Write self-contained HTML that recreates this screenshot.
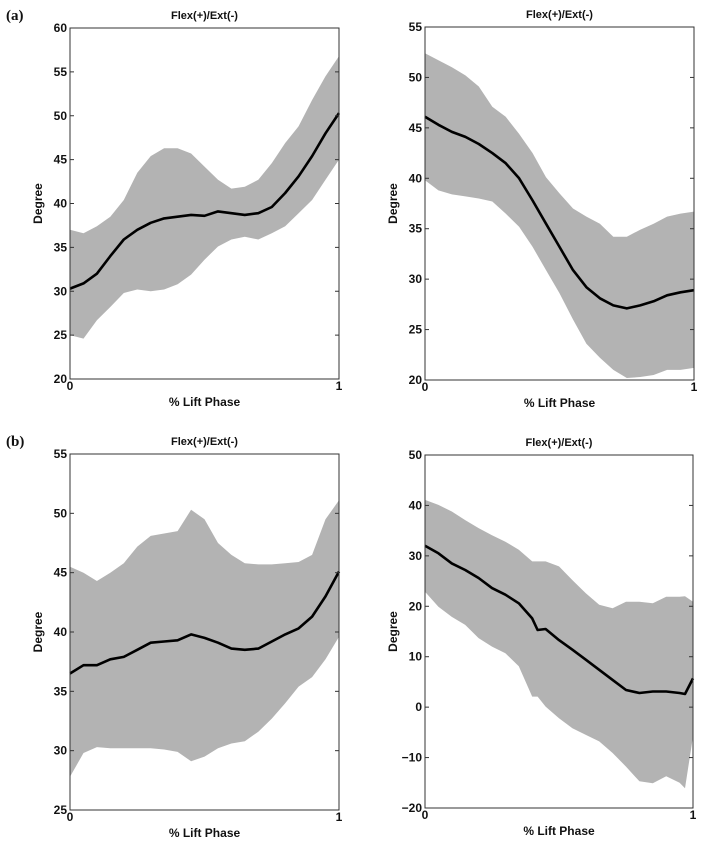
<!DOCTYPE html>
<html><head><meta charset="utf-8"><style>
body{margin:0;background:#fff;}
svg text{font-family:"Liberation Sans",sans-serif;font-weight:bold;fill:#111;}
</style></head><body>
<svg id="fig" width="704" height="843" viewBox="0 0 704 843" xmlns="http://www.w3.org/2000/svg">
<text x="6" y="20" style="font-family:'Liberation Serif',serif;font-size:15px">(a)</text>
<text x="6" y="446" style="font-family:'Liberation Serif',serif;font-size:15px">(b)</text>
</svg>
<script>
const xA1=[0,.05,.1,.15,.2,.25,.3,.35,.4,.45,.5,.55,.6,.65,.7,.75,.8,.85,.9,.95,1];
const meanA1=[30.3,30.9,32,34,35.9,37,37.8,38.3,38.5,38.7,38.6,39.1,38.9,38.7,38.9,39.6,41.2,43.1,45.4,48,50.3];
const upA1=[37,36.6,37.4,38.5,40.4,43.5,45.4,46.3,46.3,45.7,44.2,42.7,41.7,41.9,42.7,44.6,46.9,48.8,51.8,54.5,56.8];
const loA1=[25,24.6,26.7,28.2,29.8,30.2,30,30.2,30.8,31.9,33.6,35.1,35.9,36.2,35.9,36.6,37.4,38.9,40.4,42.7,45];
const ticksA1=[20,25,30,35,40,45,50,55,60];

const xA2=[0,.05,.1,.15,.2,.25,.3,.35,.4,.45,.5,.55,.6,.65,.7,.75,.8,.85,.9,.95,1];
const meanA2=[46.1,45.3,44.6,44.1,43.4,42.5,41.5,40,37.8,35.5,33.2,30.9,29.2,28.1,27.4,27.1,27.4,27.8,28.4,28.7,28.9];
const upA2=[52.4,51.7,51,50.2,49.1,47.1,46.1,44.4,42.5,40.1,38.5,37,36.2,35.5,34.2,34.2,34.9,35.5,36.2,36.5,36.7];
const loA2=[39.8,38.8,38.4,38.2,38,37.7,36.5,35.2,33.2,30.9,28.6,26,23.6,22.2,21,20.2,20.3,20.5,21,21,21.2];
const ticksA2=[20,25,30,35,40,45,50,55];

const xB1=[0,.05,.1,.15,.2,.25,.3,.35,.4,.45,.5,.55,.6,.65,.7,.75,.8,.85,.9,.95,1];
const meanB1=[36.5,37.2,37.2,37.7,37.9,38.5,39.1,39.2,39.3,39.8,39.5,39.1,38.6,38.5,38.6,39.2,39.8,40.3,41.3,43,45.1];
const upB1=[45.5,45,44.3,45,45.8,47.2,48.1,48.3,48.5,50.3,49.5,47.5,46.5,45.8,45.7,45.7,45.8,45.9,46.5,49.5,51.1];
const loB1=[27.8,29.8,30.3,30.2,30.2,30.2,30.2,30.1,29.9,29.1,29.5,30.2,30.6,30.8,31.6,32.7,34,35.4,36.2,37.7,39.6];
const ticksB1=[25,30,35,40,45,50,55];

const xB2=[0,.05,.1,.15,.2,.25,.3,.35,.4,.42,.45,.5,.55,.6,.65,.7,.75,.8,.85,.9,.95,.97,1];
const meanB2=[32,30.5,28.5,27.2,25.6,23.6,22.3,20.6,17.6,15.3,15.5,13.3,11.4,9.4,7.4,5.4,3.4,2.8,3.1,3.1,2.8,2.6,5.7];
const upB2=[41.1,40.1,38.8,37.1,35.5,34.1,32.8,31.2,28.9,28.9,28.9,27.9,25.2,22.6,20.3,19.6,20.9,20.9,20.6,21.9,21.9,22,20.9];
const loB2=[22.9,19.9,17.9,16.3,13.7,12,10.7,8.1,2.1,2.1,0.1,-2.2,-4.2,-5.5,-6.8,-9.1,-11.8,-14.7,-15.1,-13.7,-15,-16.1,-5.8];
const ticksB2=[-20,-10,0,10,20,30,40,50];

const NS='http://www.w3.org/2000/svg';
const svg=document.getElementById('fig');
function mk(tag,attrs,parent){const e=document.createElementNS(NS,tag);for(const k in attrs)e.setAttribute(k,attrs[k]);(parent||svg).appendChild(e);return e;}

function panel(id,L,T,R,B,xs,mean,up,lo,ticks){
  const g=mk('g',{});
  
  
  const ymin=ticks[0],ymax=ticks[ticks.length-1];
  const sx=v=>L+v*(R-L);
  const sy=v=>B-(v-ymin)/(ymax-ymin)*(B-T);
  let d='';
  xs.forEach((x,i)=>{d+=(i?'L':'M')+sx(x).toFixed(1)+' '+sy(up[i]).toFixed(1);});
  for(let i=xs.length-1;i>=0;i--)d+='L'+sx(xs[i]).toFixed(1)+' '+sy(lo[i]).toFixed(1);
  const band=mk('path',{d:d+'Z',fill:'#b3b3b3',stroke:'none'},g);
  
  
  let dm='';
  xs.forEach((x,i)=>{dm+=(i?'L':'M')+sx(x).toFixed(1)+' '+sy(mean[i]).toFixed(1);});
  const line=mk('path',{d:dm,fill:'none',stroke:'#000','stroke-width':2.6,'stroke-linejoin':'round'},g);
  
  
  const box=mk('rect',{x:L,y:T,width:R-L,height:B-T,fill:'none',stroke:'#333','stroke-width':1},g);
  
  
  ticks.forEach(t=>{
    const y=sy(t);
    mk('line',{x1:L,x2:L+4,y1:y,y2:y,stroke:'#333'},g);
    mk('line',{x1:R-4,x2:R,y1:y,y2:y,stroke:'#333'},g);
    const tx=mk('text',{x:L-3,y:y+4,'text-anchor':'end','font-size':12},g);
    tx.textContent=String(t).replace('-','\u2212');
    
    
  });
  [0,1].forEach(v=>{
    const tx=mk('text',{x:sx(v),y:B+11,'text-anchor':'middle','font-size':12},g);
    tx.textContent=String(v);
    
    
  });
  const xt=mk('text',{x:(L+R)/2,y:B+27,'text-anchor':'middle','font-size':12},g);
  xt.textContent='% Lift Phase';
  
  
  const cy=(T+B)/2;
  const yt=mk('text',{x:L-28,y:cy,'text-anchor':'middle','font-size':12,transform:'rotate(-90 '+(L-28)+' '+cy+')'},g);
  yt.textContent='Degree';
  
  
  const tt=mk('text',{x:(L+R)/2,y:T-9,'text-anchor':'middle','font-size':11},g);
  tt.textContent='Flex(+)/Ext(-)';
  
  
}
panel('panel-a-left',70,28,339,379,xA1,meanA1,upA1,loA1,ticksA1);
panel('panel-a-right',425,27,694,380,xA2,meanA2,upA2,loA2,ticksA2);
panel('panel-b-left',70,454,339,810,xB1,meanB1,upB1,loB1,ticksB1);
panel('panel-b-right',425,455,693,808,xB2,meanB2,upB2,loB2,ticksB2);
</script>
</body></html>
